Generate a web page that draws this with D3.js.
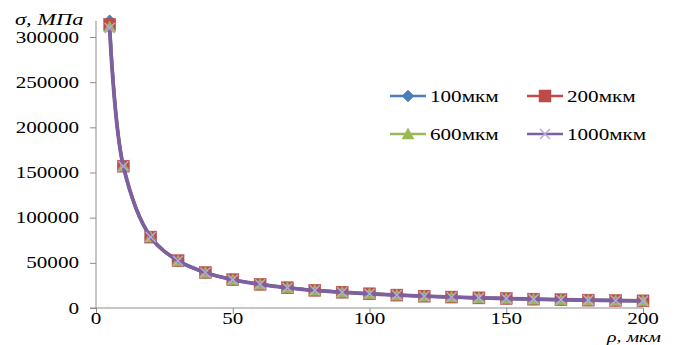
<!DOCTYPE html>
<html><head><meta charset="utf-8">
<script src="https://cdn.jsdelivr.net/npm/d3@7"></script>
<style>
body{margin:0;background:#fff;}
svg{display:block;}
text{font-family:"Liberation Serif","Times New Roman",serif;fill:#000;}
</style></head>
<body>
<svg id="c" width="674" height="345"></svg>
<script>
const rho = [5,10,20,30,40,50,60,70,80,90,100,110,120,130,140,150,160,170,180,190,200];
const s100  = [318000,157000,78500,52400,39300,31400,26200,22400,19600,17500,15700,14300,13100,12100,11200,10500,9800,9200,8700,8300,7900];
const s200  = [314000,157000,78500,52400,39300,31400,26200,22400,19600,17500,15700,14300,13100,12100,11200,10500,9800,9200,8700,8300,7900];
const s600  = [311000,157000,78500,52400,39300,31400,26200,22400,19600,17500,15700,14300,13100,12100,11200,10500,9800,9200,8700,8300,7900];
const s1000 = [310000,157000,78500,52400,39300,31400,26200,22400,19600,17500,15700,14300,13100,12100,11200,10500,9800,9200,8700,8300,7900];
const seriesNames = ["100мкм","200мкм","600мкм","1000мкм"];
const yTicks = [0,50000,100000,150000,200000,250000,300000];
const xTicks = [0,50,100,150,200];

const colors = ["#4a7ebb","#be4b48","#98b954","#7d60a0"];
const markerTypes = ["diamond","square","triangle","x"];
const allSeries = [s100,s200,s600,s1000];

const svg = d3.select("#c");
const SX = 1.32; // horizontal stretch of text as in reference
const x = d3.scaleLinear().domain([0,200]).range([96,643]);
const y = d3.scaleLinear().domain([0,300000]).range([308,37]);

// axes
const axisColor = "#8c8c8c";
const gy = svg.append("g").attr("transform","translate(96,0)")
  .call(d3.axisLeft(y).tickValues(yTicks).tickSize(6).tickFormat(d3.format("d")));
gy.select(".domain").remove();
gy.selectAll("line").attr("stroke",axisColor);
gy.selectAll("text").remove();
svg.append("line").attr("x1",96).attr("x2",96).attr("y1",y(318000)).attr("y2",308)
  .attr("stroke",axisColor).attr("stroke-width",1);

const gx = svg.append("g").attr("transform","translate(0,308)")
  .call(d3.axisBottom(x).tickValues(xTicks).tickSize(6));
gx.select(".domain").remove();
gx.selectAll("line").attr("stroke",axisColor);
gx.selectAll("text").remove();
svg.append("line").attr("x1",90).attr("x2",643).attr("y1",308).attr("y2",308)
  .attr("stroke",axisColor).attr("stroke-width",1);

function stretchedText(g, tx, ty, str, anchor, size, italic){
  const t = g.append("text")
    .attr("transform",`translate(${tx},${ty}) scale(${SX},1)`)
    .attr("text-anchor",anchor)
    .style("font-size",size+"px")
    .text(str);
  if(italic) t.style("font-style","italic");
  return t;
}
const labels = svg.append("g");
yTicks.forEach(v=>stretchedText(labels,79,y(v)+5.5,String(v),"end",16,false));
xTicks.forEach(v=>stretchedText(labels,x(v),324,String(v),"middle",16,false));
stretchedText(labels,15,25,"σ, МПа","start",17,true);
stretchedText(labels,661,341.5,"ρ, мкм","end",15,true);

// markers
function drawMarker(g, type, cx, cy, color){
  if(type==="diamond"){
    g.append("path").attr("d",`M${cx},${cy-6}L${cx+6},${cy}L${cx},${cy+6}L${cx-6},${cy}Z`).attr("fill",color).attr("stroke",color).attr("stroke-width",0.5);
  } else if(type==="square"){
    g.append("rect").attr("x",cx-6).attr("y",cy-6).attr("width",12).attr("height",12).attr("fill",color).attr("stroke","#b5524f").attr("stroke-width",0.5);
  } else if(type==="triangle"){
    g.append("path").attr("d",`M${cx},${cy-6}L${cx+6},${cy+5}L${cx-6},${cy+5}Z`).attr("fill",color).attr("stroke",color).attr("stroke-width",0.5);
  } else {
    g.append("path").attr("d",`M${cx-5},${cy-5}L${cx+5},${cy+5}M${cx-5},${cy+5}L${cx+5},${cy-5}`).attr("stroke","#b9a9d6").attr("stroke-width",1.5).attr("fill","none");
  }
}

const line = d3.line().x((d,i)=>x(rho[i])).y(d=>y(d)).curve(d3.curveCatmullRom.alpha(0.5));
allSeries.forEach((s,k)=>{
  const g = svg.append("g");
  g.append("path").datum(s).attr("d",line).attr("fill","none")
    .attr("stroke",colors[k]).attr("stroke-width",k===3?3.8:3);
  s.forEach((v,i)=>drawMarker(g,markerTypes[k],x(rho[i]),y(v),colors[k]));
});

// legend
const leg = svg.append("g");
const legPos = [[390,96],[527,96],[390,134],[527,134]];
seriesNames.forEach((n,k)=>{
  const [lx,ly] = legPos[k];
  leg.append("line").attr("x1",lx).attr("x2",lx+36).attr("y1",ly).attr("y2",ly)
    .attr("stroke",colors[k]).attr("stroke-width",2.5);
  drawMarker(leg,markerTypes[k],lx+18,ly,colors[k]);
  stretchedText(leg,lx+40,ly+5.5,n,"start",16,false);
});
</script>
</body></html>
